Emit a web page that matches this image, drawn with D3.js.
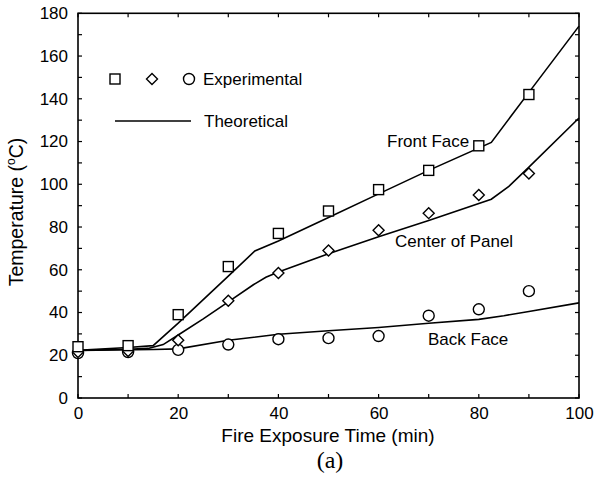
<!DOCTYPE html>
<html>
<head>
<meta charset="utf-8">
<script src="https://cdn.jsdelivr.net/npm/d3@7"></script>
<style>
  html, body { margin: 0; padding: 0; background: #fff; }
  svg { display: block; }
  text { font-family: "Liberation Sans", Arial, Helvetica, sans-serif; fill: #000; }
</style>
</head>
<body>
<svg id="chart" width="594" height="485"></svg>
<script>
// ---- data ----
const expTimes = [0, 10, 20, 30, 40, 50, 60, 70, 80, 90];
const expFront  = [24, 24.5, 39, 61.5, 77, 87.5, 97.5, 106.5, 118, 142];
const expCenter = [21.5, 22, 27, 45.5, 58.5, 69, 78.5, 86.5, 95, 105];
const expBack   = [21, 21.5, 22.5, 25, 27.5, 28, 29, 38.5, 41.5, 50];

const thFrontT = [0, 10, 15, 20, 25, 30, 35.3, 40, 50, 60, 70, 82.5, 90, 100];
const thFrontV = [22.3, 23.6, 24.5, 35, 46, 57, 68.8, 73.5, 84.5, 95.5, 106.5, 119.6, 143, 174];
const thCenterT = [0, 10, 14, 17, 20, 25, 30, 35, 37.5, 40, 50, 60, 70, 82.5, 86, 90, 100];
const thCenterV = [22.2, 22.8, 23.2, 25, 29.5, 37, 45, 53, 56.5, 59, 67.5, 75.5, 83, 93, 99, 108, 131];
const thBackT = [0, 15, 20, 30, 40, 50, 60, 70, 80, 85, 90, 100];
const thBackV = [22.2, 22.7, 23, 27, 29.8, 31.5, 33, 35, 36.8, 38.5, 40.5, 44.5];

const xTickLabels = [0, 20, 40, 60, 80, 100];
const yTickLabels = [0, 20, 40, 60, 80, 100, 120, 140, 160, 180];
const minorTicks = d3.range(0, 101, 10);
const yMinorTicks = d3.range(0, 181, 10);

// ---- layout ----
const svg = d3.select("#chart");
const x = d3.scaleLinear().domain([0, 100]).range([78, 579]);
const y = d3.scaleLinear().domain([0, 180]).range([398, 13.3]);
const tickLen = 4;

// frame
svg.append("rect")
  .attr("x", x(0)).attr("y", y(180))
  .attr("width", x(100) - x(0)).attr("height", y(0) - y(180))
  .attr("fill", "none").attr("stroke", "#000").attr("stroke-width", 1.6);

// ticks (inward) on all four sides
const tg = svg.append("g").attr("stroke", "#000").attr("stroke-width", 1.2);
minorTicks.forEach(v => {
  tg.append("line").attr("x1", x(v)).attr("x2", x(v)).attr("y1", y(0)).attr("y2", y(0) - tickLen);
  tg.append("line").attr("x1", x(v)).attr("x2", x(v)).attr("y1", y(180)).attr("y2", y(180) + tickLen);
});
yMinorTicks.forEach(v => {
  tg.append("line").attr("x1", x(0)).attr("x2", x(0) + tickLen).attr("y1", y(v)).attr("y2", y(v));
  tg.append("line").attr("x1", x(100)).attr("x2", x(100) - tickLen).attr("y1", y(v)).attr("y2", y(v));
});

// tick labels via axes (no lines)
const xAxis = d3.axisBottom(x).tickValues(xTickLabels).tickSize(0).tickPadding(9);
const xg = svg.append("g").attr("transform", `translate(0,${y(0)})`).call(xAxis);
xg.select(".domain").remove();
xg.selectAll("text").attr("font-size", 17).attr("font-family", "Liberation Sans, Arial, sans-serif").attr("fill", "#000");

const yAxis = d3.axisLeft(y).tickValues(yTickLabels).tickSize(0).tickPadding(10);
const yg = svg.append("g").attr("transform", `translate(${x(0)},0)`).call(yAxis);
yg.select(".domain").remove();
yg.selectAll("text").attr("font-size", 17).attr("font-family", "Liberation Sans, Arial, sans-serif").attr("fill", "#000");

// axis titles
svg.append("text").attr("x", 328).attr("y", 441.5).attr("text-anchor", "middle")
  .attr("font-size", 19).text("Fire Exposure Time (min)");

const yt = svg.append("text").attr("transform", "translate(23,212) rotate(-90)")
  .attr("text-anchor", "middle").attr("font-size", 19.5);
yt.append("tspan").text("Temperature (");
yt.append("tspan").attr("font-size", 12).attr("dy", -8).text("o");
yt.append("tspan").attr("dy", 8).text("C)");

svg.append("text").attr("x", 330).attr("y", 467.5).attr("text-anchor", "middle")
  .style("font-family", "'Liberation Serif', 'Times New Roman', serif")
  .attr("font-size", 24).text("(a)");

// theoretical lines
const line = d3.line().x(d => x(d[0])).y(d => y(d[1]));
const lines = [
  d3.zip(thFrontT, thFrontV),
  d3.zip(thCenterT, thCenterV),
  d3.zip(thBackT, thBackV)
];
svg.append("g").selectAll("path").data(lines).join("path")
  .attr("d", line).attr("fill", "none").attr("stroke", "#000").attr("stroke-width", 1.6);

// markers
const mk = svg.append("g").attr("fill", "#fff").attr("stroke", "#000").attr("stroke-width", 1.4);
function square(g, cx, cy) {
  g.append("rect").attr("x", cx - 5).attr("y", cy - 5).attr("width", 10).attr("height", 10);
}
function diamond(g, cx, cy) {
  const r = 5.5;
  g.append("path").attr("d", `M${cx},${cy - r}L${cx + r},${cy}L${cx},${cy + r}L${cx - r},${cy}Z`);
}
function circle(g, cx, cy) {
  g.append("circle").attr("cx", cx).attr("cy", cy).attr("r", 5.5);
}
expTimes.forEach((t, i) => {
  circle(mk, x(t), y(expBack[i]));
  diamond(mk, x(t), y(expCenter[i]));
  square(mk, x(t), y(expFront[i]));
});

// legend
const lg = svg.append("g");
const lm = lg.append("g").attr("fill", "#fff").attr("stroke", "#000").attr("stroke-width", 1.4);
square(lm, 115, 79);
diamond(lm, 152, 79);
circle(lm, 189, 79);
lg.append("text").attr("x", 203).attr("y", 85).attr("font-size", 17).text("Experimental");
lg.append("line").attr("x1", 115).attr("x2", 191).attr("y1", 121).attr("y2", 121)
  .attr("stroke", "#000").attr("stroke-width", 1.4);
lg.append("text").attr("x", 204).attr("y", 127).attr("font-size", 17).text("Theoretical");

// curve labels
svg.append("text").attr("x", 387).attr("y", 147).attr("font-size", 17).text("Front Face");
svg.append("text").attr("x", 395).attr("y", 247).attr("font-size", 17).text("Center of Panel");
svg.append("text").attr("x", 428).attr("y", 345).attr("font-size", 17).text("Back Face");
</script>
</body>
</html>
